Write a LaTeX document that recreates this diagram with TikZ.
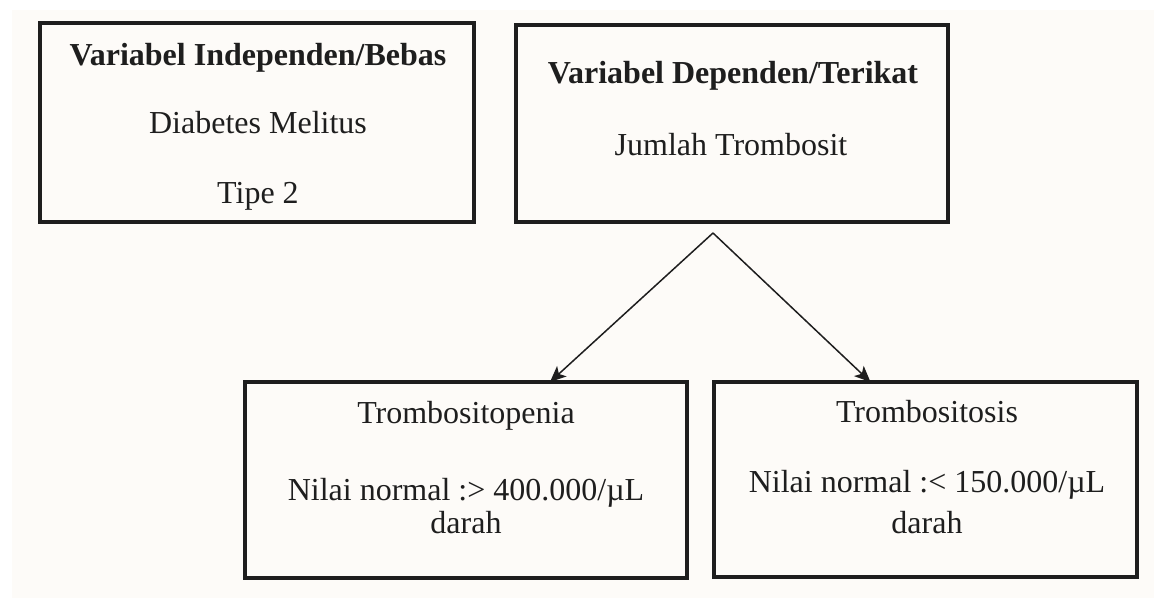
\documentclass[tikz,border=0pt]{standalone}
\usepackage{fontspec}
\setmainfont{Liberation Serif}
\usetikzlibrary{arrows.meta}
\definecolor{paper}{HTML}{FDFBF8}
\definecolor{ink}{HTML}{1E1E1E}
\begin{document}
\begin{tikzpicture}[x=1pt,y=-1pt,
  box/.style={draw=ink, line width=3.6pt, inner sep=0pt, outer sep=0pt},
  lbl/.style={anchor=base, inner sep=0pt, text=ink, font=\fontsize{32}{38}\selectfont},
  ttl/.style={lbl, font=\fontsize{32}{38}\selectfont\bfseries},
  arr/.style={draw=ink, line width=1.5pt, -{Stealth[length=16pt,width=14pt,inset=4pt]}}]
\useasboundingbox (0,0) rectangle (1154,598);
\fill[white] (0,0) rectangle (1154,598);
\fill[paper] (12,10) rectangle (1154,598);
% boxes
\node[box, minimum width=434pt, minimum height=199pt] (b1) at (257,122.5) {};
\node[box, minimum width=432pt, minimum height=197pt] (b2) at (732,123.5) {};
\node[box, minimum width=442pt, minimum height=196pt] (b3) at (466,480) {};
\node[box, minimum width=423pt, minimum height=195pt] (b4) at (925.5,479.5) {};
% texts
\node[ttl] (t1a) at (258,65) {Variabel Independen/Bebas};
\node[lbl] (t1b) at (258,133) {Diabetes Melitus};
\node[lbl] (t1c) at (258,203) {Tipe 2};
\node[ttl] (t2a) at (733,83) {Variabel Dependen/Terikat};
\node[lbl] (t2b) at (731,155) {Jumlah Trombosit};
\node[lbl] (t3a) at (466,423) {Trombositopenia};
\node[lbl] (t3b) at (466,500) {Nilai normal :> 400.000/µL};
\node[lbl] (t3c) at (466,533) {darah};
\node[lbl] (t4a) at (927,422) {Trombositosis};
\node[lbl] (t4b) at (927,492) {Nilai normal :< 150.000/µL};
\node[lbl] (t4c) at (927,533) {darah};
% connectors
\coordinate (apex) at (713,233);
\draw[arr] (apex) -- ([xshift=84pt]b3.north);
\draw[arr] (apex) -- ([xshift=-55pt]b4.north);
\end{tikzpicture}
\end{document}
